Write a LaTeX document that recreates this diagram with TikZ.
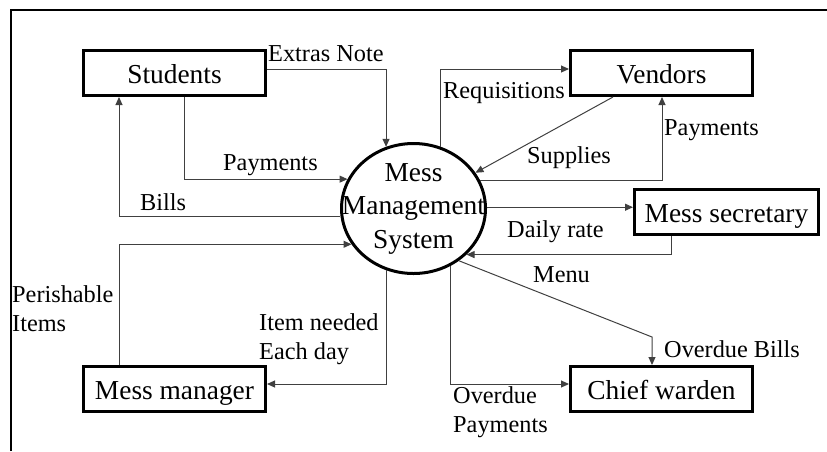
\documentclass[tikz,border=0pt]{standalone}
\usepackage{fontspec}
\setmainfont{Liberation Serif}
\usetikzlibrary{arrows.meta,shapes.geometric}

\begin{document}
\begin{tikzpicture}[x=1pt,y=-1pt,
  entity/.style={draw,line width=3pt,minimum width=182pt,minimum height=45pt,
    inner sep=0pt,text height=21pt,text depth=0pt,font=\fontsize{27.4}{33}\selectfont},
  process/.style={draw,ellipse,line width=3pt,minimum width=144pt,minimum height=130pt,
    inner xsep=-25pt,inner ysep=-5pt,align=center,font=\fontsize{27.4}{33.5}\selectfont},
  flow/.style={draw=black!75,line width=1pt,-{Triangle[length=8pt,width=7pt]}},
  lbl/.style={inner sep=0pt,font=\fontsize{24.3}{29}\selectfont},
]
\useasboundingbox (0,0) rectangle (827,451);

% page frame (top and left edges)
\draw[line width=1.5pt] (11,451) -- (11,10) -- (827,10);

% external entities and the central process
\node[entity] (stud)  at (174.5,73)  {Students};
\node[entity] (vend)  at (661.5,73)  {Vendors};
\node[entity,minimum width=184pt] (sec) at (726.5,212) {Mess secretary};
\node[entity] (chief) at (661.5,389) {Chief warden};
\node[entity] (mgr)   at (174.5,389) {Mess manager};
\node[process] (mms)  at (413.5,208.5) {Mess\\Management\\System};

\coordinate (menubend) at (652,337);

% data flows
\draw[flow] ([yshift=4pt]stud.east) -| (mms.114);
\draw[flow] ([xshift=9.5pt]stud.south) |- (mms.156.8);
\draw[flow] (mms.186.7) -| ([xshift=-55.5pt]stud.south);
\draw[flow] ([xshift=-55.5pt]mgr.north) |- (mms.210.7);
\draw[flow] (mms.246) |- ([yshift=5pt]mgr.east);
\draw[flow] (mms.66) |- ([yshift=4pt]vend.west);
\draw[flow] ([xshift=-48.5pt]vend.south) -- (mms.30.8);
\draw[flow] (mms.23.2) -| ([xshift=0.5pt]vend.south);
\draw[flow] (mms.1.2) -- (mms.1.2 -| sec.west);
\draw[flow] ([xshift=-55pt]sec.south) |- (mms.319.7);
\draw[flow] (mms.311.1) -- (menubend) -- (menubend |- chief.north);
\draw[flow] (mms.303.3) |- ([yshift=5pt]chief.west);

% flow labels
\node[lbl,anchor=base west] (lextra) at (268,61.5) {Extras Note};
\node[lbl,anchor=base west] (lpay)   at (223,170)  {Payments};
\node[lbl,anchor=base west] (lbills) at (140,210)  {Bills};
\node[lbl,anchor=north west,align=left] (lperish) at (12,285.5) {Perishable\\Items};
\node[lbl,anchor=north west,align=left] (lneed) at (259,313.4) {Item needed\\Each day};
\node[lbl,anchor=base west] (lreq)   at (443,98)   {Requisitions};
\node[lbl,anchor=base west] (lsup)   at (527,163)  {Supplies};
\node[lbl,anchor=base west] (lvpay)  at (664,135)  {Payments};
\node[lbl,anchor=base west] (ldaily) at (507,237)  {Daily rate};
\node[lbl,anchor=base west] (lmenu)  at (533,282)  {Menu};
\node[lbl,anchor=base west] (lodb)   at (664,357)  {Overdue Bills};
\node[lbl,anchor=north west,align=left] (lodp) at (453,386.4) {Overdue\\Payments};
\end{tikzpicture}
\end{document}
